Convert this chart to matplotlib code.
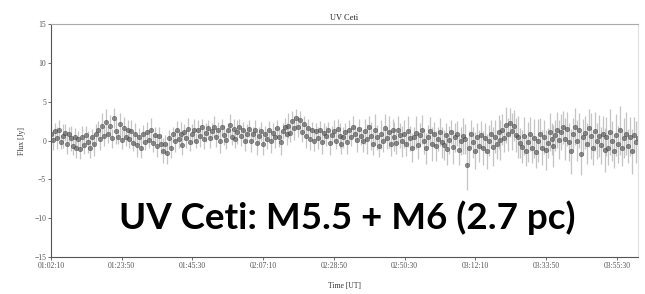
import numpy as np
import matplotlib.pyplot as plt

# flux values [Jy], left to right
flux = [
    0.9, 0.1, 1.2, 0.3, 1.4, -0.2, 0.6, 1.0, -0.4, 0.8, 0.3, -0.7, 0.5, -0.9, 0.2, -1.1, 0.4, -0.6, 0.7, -0.2,
    -0.9, 0.5, -0.5, 0.9, 1.4, 0.2, 1.9, 0.6, 2.4, 0.8, 1.9, 0.3, 2.9, 1.2, 0.5, 2.1, 0.1, 1.6, 0.4, 1.3,
    0.2, 1.2, -0.3, 0.9, -0.6, 0.5, -0.9, 0.8, -0.2, 1.1, 0.1, 1.4, -0.3, 0.7, -0.7, 0.6, -0.4, -1.3, -0.5, -1.6,
    0.3, -0.9, 0.8, -0.1, 1.3, 0.2, 0.9, -0.6, 1.1, 0.3, 1.5, -0.2, 0.8, 1.3, 0.0, 1.4, 0.6, 1.7, 0.2, 1.0,
    1.6, 0.3, 1.2, 1.8, 0.4, 1.4, -0.1, 1.7, 0.7, 0.1, 1.3, 2.0, 0.5, 1.5, 0.2, 1.1, 1.8, 0.6, 1.3, 0.0,
    0.9, 1.5, -0.1, 0.8, 1.4, -0.3, 0.6, 1.2, -0.4, 0.9, 0.2, 1.4, -0.1, 1.0, 0.4, 1.6, 0.5, -0.2, 1.2, 1.7,
    0.8, 1.9, 1.0, 2.5, 1.6, 2.9, 1.8, 2.6, 1.1, 2.1, 0.6, 1.6, 0.2, 1.4, -0.1, 1.2, 0.3, 1.3, -0.2, 1.0,
    0.6, 1.3, -0.3, 0.7, 1.2, 0.0, 1.5, 0.6, -0.5, 0.4, 1.1, -0.2, 1.4, 0.5, 1.8, 0.9, 0.1, 1.5, 0.6, -0.1,
    1.2, 0.2, 1.7, 0.6, -0.4, 1.4, 0.4, -0.7, 0.8, 0.0, 1.6, 0.3, 1.1, -0.4, 1.3, 0.5, -0.3, 1.4, 0.7, -0.1,
    0.8, -0.5, 1.2, 0.3, -0.9, 0.4, 1.0, -0.6, 0.7, 1.4, -0.1, -1.0, 0.5, 1.2, -0.4, 0.8, -0.7, 0.2, 1.1, -0.2,
    -0.6, 0.7, -1.1, 0.1, 1.1, -0.8, 0.4, 0.9, -1.2, -0.1, 0.6, 0.2, -3.2, -0.9, 0.9, -0.2, -1.3, 0.4, -0.7, 0.7,
    -1.0, 0.3, -1.4, 0.0, 0.9, -0.8, 0.5, -0.5, 1.1, 0.1, 1.4, 0.3, 2.0, 0.8, 2.3, 1.2, 1.9, 0.7, 0.4, -0.3,
    -0.8, 0.6, -1.3, -0.2, 0.8, -1.0, 0.3, -1.5, 0.0, 0.9, -0.9, 0.5, -1.2, -0.3, 1.1, 0.2, -0.7, 0.7, 1.4, 0.1,
    1.1, 1.7, 0.2, 1.5, -0.2, -1.4, 0.8, 1.8, 0.0, 1.3, -1.7, 0.5, 1.0, -0.4, 1.6, 0.6, -1.0, 1.2, -0.1, 0.6,
    -0.6, 0.9, -1.2, 0.5, -0.9, 1.1, -0.1, -1.3, 0.7, -0.5, 1.3, -1.0, 0.3, 0.9, -0.7, 0.5, -1.4, 0.7, -0.2, 0.3,
]

# 1-sigma errors [Jy]
flux_err = [
    1.1, 1.3, 1.0, 1.4, 1.2, 0.9, 1.5, 1.1, 1.3, 1.0, 1.6, 1.2, 1.1, 1.4, 1.0, 1.3, 1.5, 1.1, 1.2, 1.4,
    1.3, 1.0, 1.5, 1.2, 1.1, 1.4, 1.6, 1.3, 1.7, 1.1, 1.4, 1.2, 1.3, 1.6, 1.0, 1.5, 1.2, 1.4, 1.1, 1.3,
    1.2, 1.4, 1.0, 1.3, 1.5, 1.1, 1.4, 1.2, 1.0, 1.3, 1.1, 1.5, 1.2, 1.0, 1.4, 1.1, 1.3, 1.6, 1.2, 1.4,
    1.1, 1.3, 1.0, 1.4, 1.2, 1.1, 1.5, 1.3, 1.0, 1.2, 1.4, 1.1, 1.3, 1.5, 1.0, 1.2, 1.4, 1.1, 1.3, 1.2,
    1.0, 1.3, 1.1, 1.4, 1.2, 1.0, 1.5, 1.1, 1.3, 1.2, 1.0, 1.4, 1.1, 1.3, 1.2, 1.5, 1.0, 1.3, 1.1, 1.4,
    1.2, 1.1, 1.4, 1.0, 1.3, 1.5, 1.1, 1.2, 1.4, 1.0, 1.3, 1.1, 1.5, 1.2, 1.4, 1.1, 1.3, 1.6, 1.0, 1.2,
    1.4, 1.6, 1.2, 1.3, 1.5, 1.1, 1.4, 1.2, 1.3, 1.1, 1.5, 1.2, 1.4, 1.0, 1.3, 1.1, 1.4, 1.2, 1.5, 1.3,
    1.3, 1.1, 1.5, 1.2, 1.4, 1.1, 1.3, 1.6, 1.2, 1.4, 1.1, 1.5, 1.3, 1.2, 1.4, 1.1, 1.6, 1.3, 1.2, 1.4,
    1.6, 1.9, 1.4, 1.8, 1.5, 2.0, 1.6, 1.4, 1.9, 1.5, 1.8, 1.4, 2.1, 1.6, 1.5, 1.9, 1.4, 1.8, 1.6, 2.0,
    1.8, 1.5, 2.0, 1.6, 1.9, 1.4, 2.1, 1.8, 1.5, 1.9, 1.6, 2.0, 1.5, 1.8, 2.2, 1.6, 1.9, 1.5, 1.8, 2.0,
    1.9, 1.6, 2.1, 1.8, 1.5, 2.2, 1.9, 1.6, 2.0, 1.8, 2.3, 1.9, 3.2, 2.1, 1.8, 2.0, 2.4, 1.9, 2.1, 1.8,
    2.2, 1.9, 2.3, 2.0, 1.8, 2.5, 2.1, 1.9, 2.2, 2.6, 2.0, 1.8, 2.3, 2.1, 1.9, 2.4, 2.0, 2.2, 2.7, 1.9,
    2.1, 2.4, 2.0, 2.6, 2.2, 1.9, 2.5, 2.1, 2.8, 2.0, 2.3, 2.2, 2.6, 1.9, 2.4, 2.1, 2.7, 2.0, 2.3, 2.5,
    2.3, 2.1, 2.7, 2.2, 2.5, 2.9, 2.1, 2.4, 2.6, 2.2, 2.8, 2.3, 2.1, 2.6, 2.4, 3.0, 2.2, 2.5, 2.3, 2.7,
    2.4, 2.2, 2.8, 2.5, 2.3, 2.9, 2.6, 2.2, 2.7, 2.4, 3.1, 2.3, 2.6, 2.8, 2.2, 2.5, 2.9, 2.3, 2.7, 2.4,
]

t_start = 3730      # 01:02:10 UT, seconds of day
t_end = 14516       # ~04:01:56 UT
tick_labels = ["01:02:10", "01:23:50", "01:45:30", "02:07:10", "02:28:50",
               "02:50:30", "03:12:10", "03:33:50", "03:55:30"]
y_ticks = [-15, -10, -5, 0, 5, 10, 15]


def to_sec(s):
    h, m, sec = s.split(":")
    return int(h) * 3600 + int(m) * 60 + int(sec)


t = np.linspace(t_start, t_end, len(flux))  # even cadence

fig = plt.figure(figsize=(6.45, 2.94), dpi=100)
ax = fig.add_axes([0.079, 0.126, 0.910, 0.792])

ax.errorbar(t, flux, yerr=flux_err, fmt='none', ecolor='#c4c4c4', elinewidth=0.9, zorder=1)
ax.plot(t, flux, 'o', ms=3.2, mfc='#555555', mec='#3a3a3a', mew=0.4, alpha=0.65, zorder=2)

ax.set_xlim(t_start, t_end)
ax.set_ylim(-15, 15)
ax.set_xticks([to_sec(s) for s in tick_labels])
ax.set_xticklabels(tick_labels)
ax.set_yticks(y_ticks)

serif = 'Liberation Serif'
for lab in ax.get_xticklabels() + ax.get_yticklabels():
    lab.set_family(serif)
    lab.set_fontsize(5.5)
    lab.set_color('#333333')
ax.tick_params(length=2, width=0.6, colors='#555555', pad=1.5)

ax.spines['left'].set_color('#555555')
ax.spines['bottom'].set_color('#555555')
ax.spines['top'].set_color('#aaaaaa')
ax.spines['right'].set_color('#e0e0e0')
for s in ax.spines.values():
    s.set_linewidth(0.8)

ax.set_title("UV Ceti", family=serif, fontsize=6, color='#222222', pad=3)
ax.set_ylabel("Flux [Jy]", family=serif, fontsize=5.5, color='#333333', labelpad=6)
ax.set_xlabel("Time [UT]", family=serif, fontsize=5.5, color='#333333', labelpad=9)

ax.text(0.505, 0.17, "UV Ceti: M5.5 + M6 (2.7 pc)", transform=ax.transAxes,
        ha='center', va='center', fontsize=26.5, fontweight='bold',
        family='Lato', color='black')

fig.savefig("out.png", dpi=100)
